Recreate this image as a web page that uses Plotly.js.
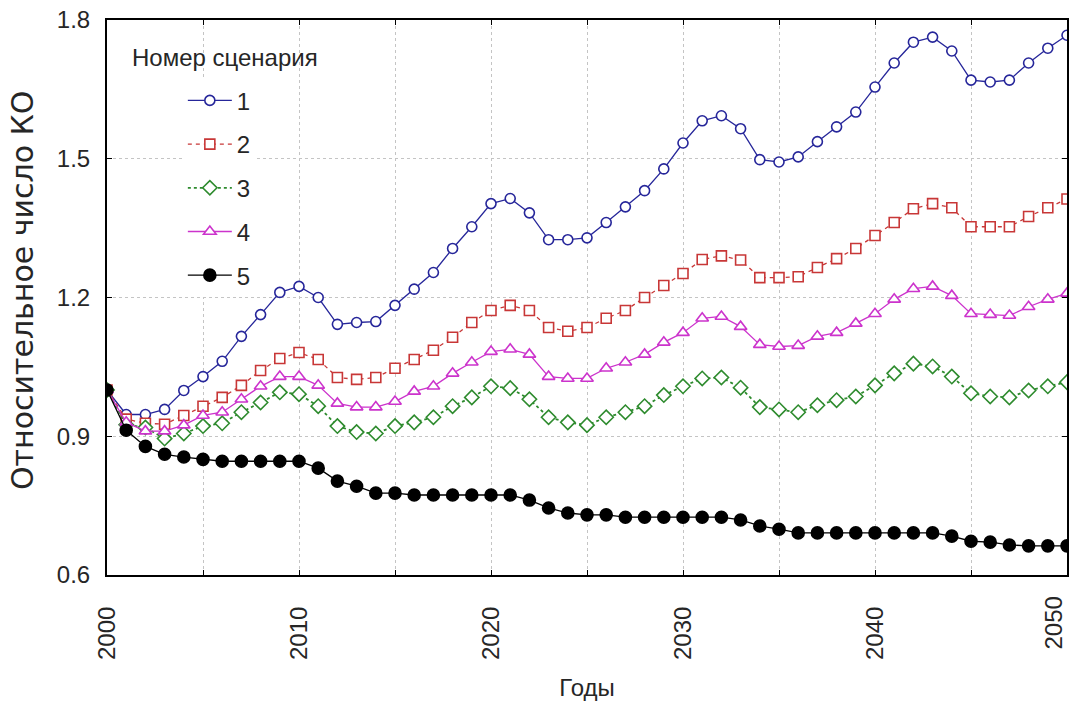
<!DOCTYPE html>
<html>
<head>
<meta charset="utf-8">
<script src="https://cdn.plot.ly/plotly-3.0.1.min.js"></script>
<style>
  html, body { margin: 0; padding: 0; background: #ffffff; }
  #chart { width: 1070px; height: 701px; }
</style>
</head>
<body>
<div id="chart"></div>
<script>
const years = [2000, 2001, 2002, 2003, 2004, 2005, 2006, 2007, 2008, 2009,
  2010, 2011, 2012, 2013, 2014, 2015, 2016, 2017, 2018, 2019,
  2020, 2021, 2022, 2023, 2024, 2025, 2026, 2027, 2028, 2029,
  2030, 2031, 2032, 2033, 2034, 2035, 2036, 2037, 2038, 2039,
  2040, 2041, 2042, 2043, 2044, 2045, 2046, 2047, 2048, 2049, 2050];

const scenarioNames = ["1", "2", "3", "4", "5"];

const scenario1 = [1.000, 0.947, 0.947, 0.958, 0.999, 1.029, 1.062, 1.116, 1.163, 1.211,
  1.224, 1.200, 1.142, 1.146, 1.148, 1.183, 1.218, 1.254, 1.306, 1.353,
  1.403, 1.414, 1.383, 1.325, 1.325, 1.329, 1.362, 1.396, 1.431, 1.478,
  1.534, 1.582, 1.593, 1.565, 1.498, 1.493, 1.504, 1.537, 1.569, 1.601,
  1.655, 1.707, 1.752, 1.763, 1.733, 1.670, 1.666, 1.670, 1.707, 1.739, 1.767];

const scenario2 = [1.000, 0.937, 0.928, 0.926, 0.945, 0.965, 0.984, 1.010, 1.042, 1.068,
  1.081, 1.066, 1.027, 1.023, 1.027, 1.047, 1.066, 1.086, 1.114, 1.146,
  1.172, 1.183, 1.172, 1.135, 1.127, 1.135, 1.155, 1.172, 1.200, 1.226,
  1.252, 1.282, 1.290, 1.281, 1.243, 1.243, 1.245, 1.265, 1.284, 1.306,
  1.334, 1.362, 1.392, 1.403, 1.394, 1.353, 1.353, 1.353, 1.375, 1.394, 1.413];

const scenario3 = [1.000, 0.925, 0.919, 0.895, 0.906, 0.922, 0.928, 0.952, 0.973, 0.995,
  0.991, 0.965, 0.922, 0.909, 0.906, 0.922, 0.930, 0.941, 0.965, 0.984,
  1.008, 1.004, 0.980, 0.941, 0.930, 0.924, 0.941, 0.952, 0.965, 0.989,
  1.008, 1.025, 1.027, 1.005, 0.963, 0.958, 0.952, 0.967, 0.978, 0.986,
  1.010, 1.036, 1.057, 1.051, 1.029, 0.993, 0.986, 0.984, 0.999, 1.008, 1.017];

const scenario4 = [1.000, 0.930, 0.911, 0.911, 0.924, 0.945, 0.952, 0.980, 1.008, 1.029,
  1.029, 1.010, 0.971, 0.963, 0.963, 0.975, 0.997, 1.008, 1.036, 1.060,
  1.083, 1.088, 1.077, 1.029, 1.025, 1.025, 1.047, 1.060, 1.077, 1.103,
  1.124, 1.155, 1.159, 1.137, 1.098, 1.094, 1.096, 1.116, 1.124, 1.144,
  1.165, 1.196, 1.219, 1.224, 1.204, 1.165, 1.163, 1.161, 1.180, 1.196, 1.209];

const scenario5 = [1.000, 0.913, 0.878, 0.861, 0.855, 0.850, 0.846, 0.846, 0.846, 0.846,
  0.846, 0.831, 0.803, 0.792, 0.777, 0.777, 0.773, 0.773, 0.773, 0.773,
  0.773, 0.773, 0.762, 0.745, 0.734, 0.730, 0.730, 0.725, 0.725, 0.725,
  0.725, 0.725, 0.725, 0.719, 0.706, 0.699, 0.691, 0.691, 0.691, 0.691,
  0.691, 0.691, 0.691, 0.691, 0.684, 0.673, 0.671, 0.665, 0.663, 0.663, 0.663];

const xTickVals = [2000, 2005, 2010, 2015, 2020, 2025, 2030, 2035, 2040, 2045, 2050];
const xTickText = ["2000", "", "2010", "", "2020", "", "2030", "", "2040", "", ""];
const lastYearLabel = "2050";
const yTickVals = [0.6, 0.9, 1.2, 1.5, 1.8];
const yTickText = ["0.6", "0.9", "1.2", "1.5", "1.8"];

const FONT = "Liberation Sans, Arial, sans-serif";
const TEXT_COLOR = "#262626";

const styles = [
  { color: "#26269a", dash: "solid", symbol: "circle", fill: "#ffffff", size: 10, width: 1.3 },
  { color: "#c83737", dash: "4px,4px", symbol: "square", fill: "#ffffff", size: 10, width: 1.3 },
  { color: "#2e8b2e", dash: "dot", symbol: "diamond", fill: "#ffffff", size: 11, width: 1.8 },
  { color: "#cc33cc", dash: "solid", symbol: "triangle-up", fill: "#ffffff", size: 11, width: 1.3 },
  { color: "#000000", dash: "solid", symbol: "circle", fill: "#000000", size: 12, width: 1.3 }
];
const series = [scenario1, scenario2, scenario3, scenario4, scenario5];

const traces = series.map((vals, i) => ({
  x: years,
  y: vals,
  type: "scatter",
  mode: "lines+markers",
  name: scenarioNames[i],
  legendgroup: "g" + i,
  line: { color: styles[i].color, dash: styles[i].dash, width: styles[i].width },
  marker: {
    symbol: styles[i].symbol,
    size: styles[i].size,
    color: styles[i].fill,
    line: { color: styles[i].color, width: 1.6 }
  }
}));

const layout = {
  width: 1070,
  height: 701,
  margin: { l: 107, r: 3, t: 20, b: 126 },
  paper_bgcolor: "#ffffff",
  plot_bgcolor: "#ffffff",
  font: { family: FONT, size: 24, color: TEXT_COLOR },
  showlegend: true,
  legend: {
    x: 0.079, y: 0.895, xanchor: "left", yanchor: "top",
    bgcolor: "#ffffff",
    borderwidth: 0,
    font: { family: FONT, size: 24, color: TEXT_COLOR },
    itemwidth: 44,
    tracegroupgap: 9.5
  },
  annotations: [
    {
      text: "Номер сценария",
      xref: "paper", yref: "paper",
      x: 0.024, y: 0.933, xanchor: "left", yanchor: "middle",
      showarrow: false,
      font: { family: FONT, size: 24, color: TEXT_COLOR }
    },
    {
      text: "Относительное число КО",
      xref: "paper", yref: "paper",
      x: -0.0885, y: 0.5135, xanchor: "center", yanchor: "middle",
      textangle: -90,
      showarrow: false,
      font: { family: "DejaVu Sans, sans-serif", size: 30, color: TEXT_COLOR }
    },
    {
      text: lastYearLabel,
      xref: "x", yref: "paper",
      x: 2050, y: 0, xanchor: "center", yanchor: "top",
      xshift: -14, yshift: -20,
      textangle: -90,
      showarrow: false,
      font: { family: FONT, size: 24, color: TEXT_COLOR }
    }
  ],
  xaxis: {
    range: [2000, 2050],
    tickmode: "array",
    tickvals: xTickVals,
    ticktext: xTickText,
    tickangle: -90,
    ticks: "inside",
    ticklen: 5,
    tickcolor: "#000000",
    showline: true,
    linecolor: "#000000",
    linewidth: 2,
    mirror: "ticks",
    showgrid: true,
    gridcolor: "#c4c4c4",
    griddash: "dot",
    gridwidth: 1,
    zeroline: false,
    ticklabelstandoff: 20,
    tickfont: { family: FONT, size: 24, color: TEXT_COLOR },
    title: { text: "Годы", font: { family: FONT, size: 24, color: TEXT_COLOR }, standoff: 21 }
  },
  yaxis: {
    range: [0.6, 1.8],
    tickmode: "array",
    tickvals: yTickVals,
    ticktext: yTickText,
    ticks: "inside",
    ticklen: 5,
    tickcolor: "#000000",
    showline: true,
    linecolor: "#000000",
    linewidth: 2,
    mirror: "ticks",
    showgrid: true,
    gridcolor: "#c4c4c4",
    griddash: "dot",
    gridwidth: 1,
    zeroline: false,
    ticklabelstandoff: 10,
    tickfont: { family: FONT, size: 24, color: TEXT_COLOR }
  }
};

Plotly.newPlot("chart", traces, layout, { displayModeBar: false, staticPlot: true });
</script>
</body>
</html>
